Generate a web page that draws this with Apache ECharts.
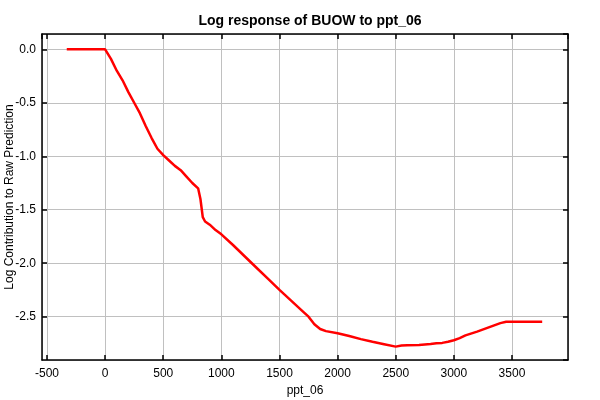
<!DOCTYPE html>
<html>
<head>
<meta charset="utf-8">
<title>Log response of BUOW to ppt_06</title>
<script src="https://cdn.jsdelivr.net/npm/echarts@6/dist/echarts.min.js"></script>
<style>
  html, body { margin: 0; padding: 0; background: #fff; }
  #chart { width: 600px; height: 400px; }
</style>
</head>
<body>
<div id="chart"></div>
<script>
// ppt_06 values
const pptValues = [-330, -250, -150, -50, 0, 50, 100, 150, 200, 250, 300, 350, 400, 450, 500,
  550, 600, 650, 700, 750, 800, 820, 840, 860, 900, 950, 1000, 1100, 1200, 1300, 1400, 1500,
  1600, 1700, 1750, 1800, 1850, 1900, 2000, 2100, 2200, 2300, 2400, 2500, 2550, 2600, 2700,
  2800, 2850, 2900, 2950, 3000, 3050, 3100, 3200, 3300, 3400, 3450, 3500, 3600, 3700, 3760]

// log contribution for each ppt_06 value
const logContribution = [0, 0, 0, 0, 0, -0.09, -0.2, -0.29, -0.4, -0.5, -0.6, -0.72, -0.83, -0.93, -0.99,
  -1.04, -1.09, -1.13, -1.19, -1.25, -1.30, -1.40, -1.57, -1.61, -1.64, -1.69, -1.73, -1.83, -1.935, -2.04, -2.145, -2.25,
  -2.35, -2.45, -2.5, -2.57, -2.615, -2.635, -2.655, -2.68, -2.71, -2.735, -2.757, -2.78, -2.77, -2.767, -2.764,
  -2.755, -2.748, -2.745, -2.735, -2.72, -2.70, -2.675, -2.64, -2.60, -2.56, -2.548, -2.548, -2.548, -2.548, -2.548]

const chartTitle = 'Log response of BUOW to ppt_06'
const xName = 'ppt_06'
const yName = 'Log Contribution to Raw Prediction'

const font = 'Liberation Sans, Arial, sans-serif'

const points = pptValues.map((x, i) => [x, logContribution[i]])

const chart = echarts.init(document.getElementById('chart'))

// shared look for the frame axes
const frameLine = { show: true, onZero: false, lineStyle: { color: '#000', width: 1.5 } }
const innerTick = { show: true, inside: true, length: 5, lineStyle: { color: '#000', width: 1.5 } }

chart.setOption({
  animation: false,
  title: {
    text: chartTitle,
    left: 305,
    textAlign: 'center',
    top: 9,
    textStyle: { fontFamily: font, fontSize: 14, fontWeight: 'bold', color: '#000' }
  },
  // fixed plot box, no automatic room for labels
  grid: { left: 42, right: 32, top: 34, bottom: 40, containLabel: false, outerBoundsMode: 'none' },
  xAxis: [
    {
      type: 'value',
      min: -543,
      max: 3982,
      splitNumber: 9,
      name: xName,
      nameLocation: 'middle',
      nameGap: 25,
      nameMoveOverlap: false,
      nameTextStyle: { fontFamily: font, fontSize: 12, color: '#000' },
      axisLine: frameLine,
      axisTick: innerTick,
      axisLabel: {
        fontFamily: font, fontSize: 12, color: '#000', margin: 8,
        showMinLabel: false, showMaxLabel: false,
        formatter: v => String(v)
      },
      splitLine: { show: true, lineStyle: { color: '#c0c0c0', width: 1 } }
    },
    {
      type: 'value',
      position: 'top',
      min: -543,
      max: 3982,
      splitNumber: 9,
      axisLine: frameLine,
      axisTick: innerTick,
      axisLabel: { show: false },
      splitLine: { show: false }
    }
  ],
  yAxis: [
    {
      type: 'value',
      min: -2.905,
      max: 0.143,
      splitNumber: 6,
      name: yName,
      nameLocation: 'middle',
      nameGap: 26,
      nameMoveOverlap: false,
      nameTextStyle: { fontFamily: font, fontSize: 12, color: '#000' },
      axisLine: frameLine,
      axisTick: innerTick,
      axisLabel: {
        fontFamily: font, fontSize: 12, color: '#000', margin: 6,
        showMinLabel: false, showMaxLabel: false,
        formatter: v => v.toFixed(1)
      },
      splitLine: { show: true, lineStyle: { color: '#c0c0c0', width: 1 } }
    },
    {
      type: 'value',
      position: 'right',
      min: -2.905,
      max: 0.143,
      splitNumber: 6,
      axisLine: frameLine,
      axisTick: innerTick,
      axisLabel: { show: false },
      splitLine: { show: false }
    }
  ],
  series: [
    {
      type: 'line',
      data: points,
      showSymbol: false,
      lineStyle: { color: '#ff0000', width: 2.5 },
      z: 5
    }
  ]
})
</script>
</body>
</html>
